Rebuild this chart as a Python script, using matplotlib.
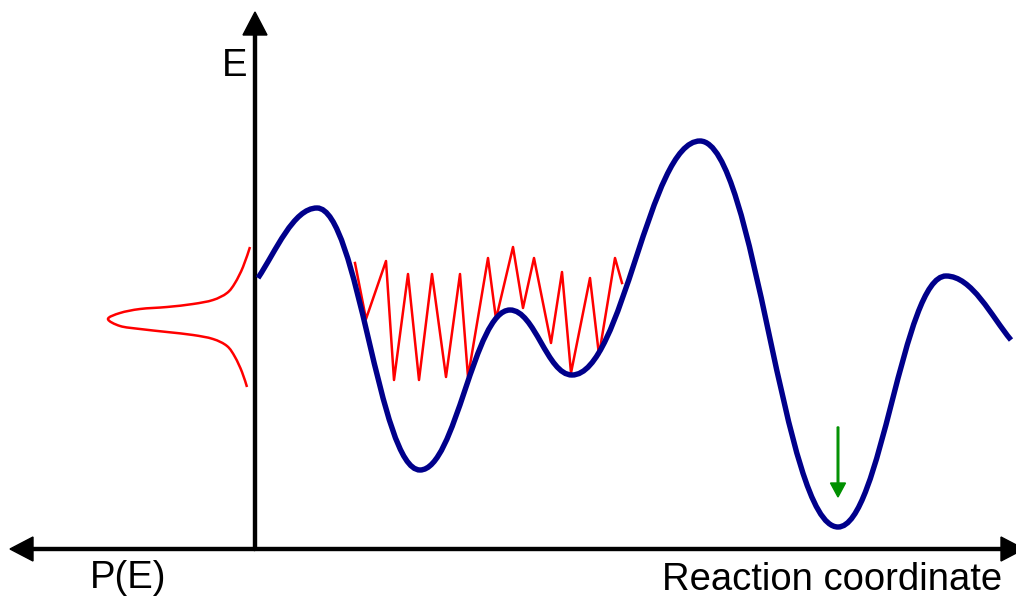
import matplotlib
matplotlib.use("Agg")
import matplotlib.pyplot as plt
from matplotlib.path import Path
from matplotlib.patches import PathPatch

plt.rcParams['font.family'] = ['Liberation Sans', 'DejaVu Sans']

# energy landscape: start, extrema, end (pixel-like units, y grows downward)
curve_x = [258, 317, 420, 510, 572, 700, 838, 946, 1011]
curve_y = [278, 208, 470, 310, 375, 141, 527, 276, 340]
start_slope = -1.5
end_slope = 1.2

# trajectory hopping in the first basins
zig_x = [355, 366, 386, 394, 408, 419, 432, 446, 460, 468, 488, 496,
         513, 523, 534, 551, 562, 571, 590, 599, 615, 622]
zig_y = [263, 319, 261, 380, 274, 380, 274, 377, 274, 377, 258, 319,
         247, 308, 258, 343, 272, 373, 278, 355, 258, 283]

# P(E) distribution on the left
pe_x = [250, 243, 235, 227, 213, 193, 167, 140, 120, 108,
        120, 140, 167, 193, 213, 227, 235, 242, 247]
pe_y = [247, 267, 283, 293, 300, 304, 307, 309, 313, 319,
        326, 329, 332, 335, 339, 346, 357, 372, 387]


def smooth_path(xs, ys):
    # catmull-rom through the read points, handed to matplotlib as bezier pieces
    pts = list(zip(xs, ys))
    verts = [pts[0]]
    codes = [Path.MOVETO]
    for i in range(len(pts) - 1):
        p0 = pts[max(i - 1, 0)]
        p1 = pts[i]
        p2 = pts[i + 1]
        p3 = pts[min(i + 2, len(pts) - 1)]
        c1 = (p1[0] + (p2[0] - p0[0]) / 6, p1[1] + (p2[1] - p0[1]) / 6)
        c2 = (p2[0] - (p3[0] - p1[0]) / 6, p2[1] - (p3[1] - p1[1]) / 6)
        verts += [c1, c2, p2]
        codes += [Path.CURVE4] * 3
    return Path(verts, codes)


fig = plt.figure(figsize=(10.16, 5.98), dpi=100)
ax = fig.add_axes([0, 0, 1, 1])
ax.set_xlim(0, 1016)
ax.set_ylim(598, 0)
ax.axis('off')

# axes arrows
ax.arrow(255, 549, 0, -537, width=3, head_width=24, head_length=23,
         length_includes_head=True, color='black', zorder=3)
ax.arrow(255, 549, -245, 0, width=3, head_width=24, head_length=23,
         length_includes_head=True, color='black', zorder=3)
ax.arrow(254, 549, 770, 0, width=3, head_width=24, head_length=23,
         length_includes_head=True, color='black', zorder=3)

# smooth landscape as bezier pieces with flat tangents at the extrema
verts = [(curve_x[0], curve_y[0])]
codes = [Path.MOVETO]
n = len(curve_x)
for i in range(n - 1):
    x0, y0 = curve_x[i], curve_y[i]
    x1, y1 = curve_x[i + 1], curve_y[i + 1]
    dx = x1 - x0
    if i == 0:
        c1 = (x0 + 0.3 * dx, y0 + start_slope * 0.3 * dx)
    else:
        c1 = (x0 + 0.4 * dx, y0)
    if i == n - 2:
        c2 = (x1 - 0.3 * dx, y1 - end_slope * 0.3 * dx)
    else:
        c2 = (x1 - 0.4 * dx, y1)
    verts += [c1, c2, (x1, y1)]
    codes += [Path.CURVE4] * 3
ax.add_patch(PathPatch(Path(verts, codes), fill=False, edgecolor='#00008B',
                       linewidth=3.9, capstyle='butt', zorder=4))

ax.plot(zig_x, zig_y, color='#FF0000', linewidth=1.8, zorder=2)
ax.add_patch(PathPatch(smooth_path(pe_x, pe_y), fill=False, edgecolor='#FF0000',
                       linewidth=1.8, zorder=2))

# green arrow into the deep minimum
ax.arrow(838, 427, 0, 70, width=1.6, head_width=15, head_length=14,
         length_includes_head=True, color='#009000', zorder=5)

ax.text(222, 76, 'E', fontsize=27.5, va='baseline', ha='left')
ax.text(90, 588, 'P(E)', fontsize=27.5, va='baseline', ha='left')
ax.text(662, 590, 'Reaction coordinate', fontsize=27.5, va='baseline', ha='left')

fig.savefig('out.png', dpi=100)
